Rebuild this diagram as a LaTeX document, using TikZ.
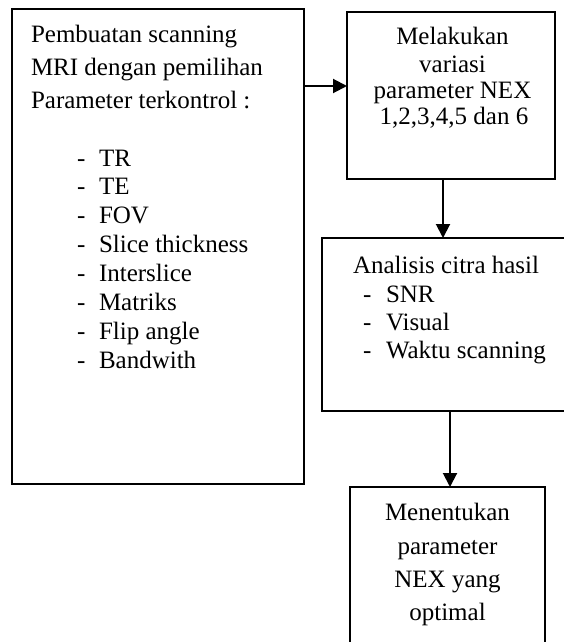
\documentclass[tikz,border=0pt]{standalone}
\usepackage{fontspec}
\setmainfont{Liberation Serif}
\usetikzlibrary{arrows.meta}
\begin{document}
\begin{tikzpicture}[x=1pt,y=-1pt,
  box/.style={draw,line width=1.5pt,inner sep=0pt,outer sep=0pt,rectangle},
  txt/.style={inner sep=0pt,outer sep=0pt,font=\fontsize{25}{29}\selectfont},
  arr/.style={line width=2pt,-{Triangle[length=14pt,width=14pt]}}]
\useasboundingbox (0,0) rectangle (563,642);
% boxes
\node[box,minimum width=292pt,minimum height=475pt] (lbox) at (158,246.5) {};
\node[box,minimum width=208pt,minimum height=167pt] (tbox) at (451,95.5) {};
\node[box,minimum width=258pt,minimum height=173pt] (mbox) at (451,324.5) {};
\node[box,minimum width=195pt,minimum height=180pt] (bbox) at (447.5,577) {};
% left box text
\node[txt,anchor=base west] (l1) at (31,42) {Pembuatan scanning};
\node[txt,anchor=base west] (l2) at (31,75) {MRI dengan pemilihan};
\node[txt,anchor=base west] (l3) at (31,108) {Parameter terkontrol :};
\foreach \t [count=\i from 0] in {TR,TE,FOV,Slice thickness,Interslice,Matriks,Flip angle,Bandwith}{
  \node[txt,anchor=base west] (ld\i) at (77,166+28.9*\i) {-};
  \node[txt,anchor=base west] (li\i) at (99,166+28.9*\i) {\t};
}
% top box text
\node[txt,anchor=base] (t1) at (452.5,45) {Melakukan};
\node[txt,anchor=base] (t2) at (452.5,72) {variasi};
\node[txt,anchor=base] (t3) at (452.5,98.5) {parameter NEX};
\node[txt,anchor=base] (t4) at (454,124.5) {1,2,3,4,5 dan 6};
% middle box text
\node[txt,anchor=base west] (m1) at (353,273) {Analisis citra hasil};
\foreach \t [count=\i from 0] in {SNR,Visual,Waktu scanning}{
  \node[txt,anchor=base west] (md\i) at (363,302+28.2*\i) {-};
  \node[txt,anchor=base west] (mi\i) at (386,302+28.2*\i) {\t};
}
% bottom box text
\node[txt,anchor=base] (b1) at (447.5,520) {Menentukan};
\node[txt,anchor=base] (b2) at (447.5,554) {parameter};
\node[txt,anchor=base] (b3) at (447.5,587) {NEX yang};
\node[txt,anchor=base] (b4) at (447.5,620) {optimal};
% connectors
\coordinate (ya) at (0,86);
\coordinate (xa) at (443,0);
\coordinate (xb) at (450,0);
\draw[arr] (lbox.east |- ya) -- (tbox.west |- ya);
\draw[arr] (tbox.south -| xa) -- (mbox.north -| xa);
\draw[arr] (mbox.south -| xb) -- (bbox.north -| xb);
\end{tikzpicture}
\end{document}
